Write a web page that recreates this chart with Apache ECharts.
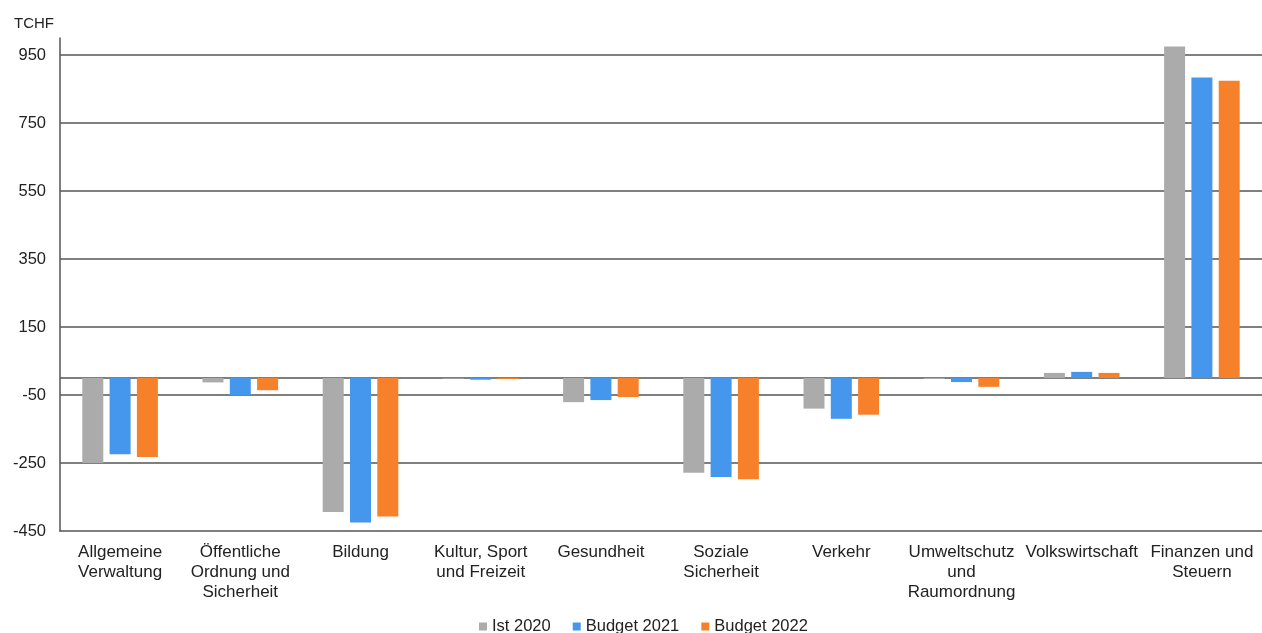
<!DOCTYPE html>
<html>
<head>
<meta charset="utf-8">
<script src="https://cdn.jsdelivr.net/npm/echarts@6/dist/echarts.min.js"></script>
<style>
html,body{margin:0;padding:0;background:#fff;}
#chart{width:1262px;height:633px;}
</style>
</head>
<body>
<div id="chart"></div>
<script>
var categories = [
  'Allgemeine\nVerwaltung',
  'Öffentliche\nOrdnung und\nSicherheit',
  'Bildung',
  'Kultur, Sport\nund Freizeit',
  'Gesundheit',
  'Soziale\nSicherheit',
  'Verkehr',
  'Umweltschutz\nund\nRaumordnung',
  'Volkswirtschaft',
  'Finanzen und\nSteuern'
];
var ist2020 =    [-250, -13, -394, -2, -71, -279,  -90,  -3, 15, 975];
var budget2021 = [-224, -50, -425, -5, -65, -291, -120, -12, 18, 884];
var budget2022 = [-232, -36, -407, -3, -56, -298, -108, -26, 15, 874];
var yTicks = [-450, -250, -50, 150, 350, 550, 750, 950];
var seriesNames = ['Ist 2020', 'Budget 2021', 'Budget 2022'];

var font = '"Liberation Sans", Arial, sans-serif';
var gridLineData = yTicks.filter(function (v) { return v !== -450; })
  .concat([0]).map(function (v) { return { yAxis: v }; });

var chart = echarts.init(document.getElementById('chart'), null, { renderer: 'canvas' });
chart.setOption({
  animation: false,
  backgroundColor: '#ffffff',
  textStyle: { fontFamily: font },
  title: {
    text: 'TCHF', left: 14, top: 16, padding: 0,
    textStyle: { fontSize: 15, fontWeight: 'normal', color: '#222', fontFamily: font }
  },
  legend: {
    data: seriesNames,
    left: 474, top: 613,
    itemWidth: 8, itemHeight: 8, itemGap: 22,
    icon: 'rect',
    textStyle: { fontSize: 16.5, color: '#222', fontFamily: font }
  },
  grid: { left: 60, right: -5, top: 38, bottom: 102 },
  xAxis: {
    type: 'category',
    data: categories,
    axisLine: { onZero: false, lineStyle: { color: '#555', width: 1.5 } },
    axisTick: { show: false },
    axisLabel: {
      interval: 0, fontSize: 17, lineHeight: 20, margin: 11,
      color: '#222', fontFamily: font
    }
  },
  yAxis: {
    type: 'value',
    min: -450, max: 1000,
    axisLine: { show: true, lineStyle: { color: '#555', width: 1.5 } },
    axisTick: { show: false, customValues: yTicks },
    splitLine: { show: false },
    axisLabel: {
      customValues: yTicks, fontSize: 16.5, color: '#222', margin: 14, fontFamily: font
    }
  },
  series: [
    {
      name: seriesNames[0], type: 'bar', data: ist2020,
      barWidth: 21, barGap: '30%',
      itemStyle: { color: '#ababab' },
      markLine: {
        z: 1, silent: true, symbol: ['none', 'none'],
        label: { show: false },
        lineStyle: { color: '#555', width: 1.5, type: 'solid' },
        data: gridLineData
      }
    },
    { name: seriesNames[1], type: 'bar', data: budget2021, barWidth: 21, barGap: '30%', itemStyle: { color: '#4597ee' } },
    { name: seriesNames[2], type: 'bar', data: budget2022, barWidth: 21, barGap: '30%', itemStyle: { color: '#f7812b' } }
  ]
});
</script>
</body>
</html>
